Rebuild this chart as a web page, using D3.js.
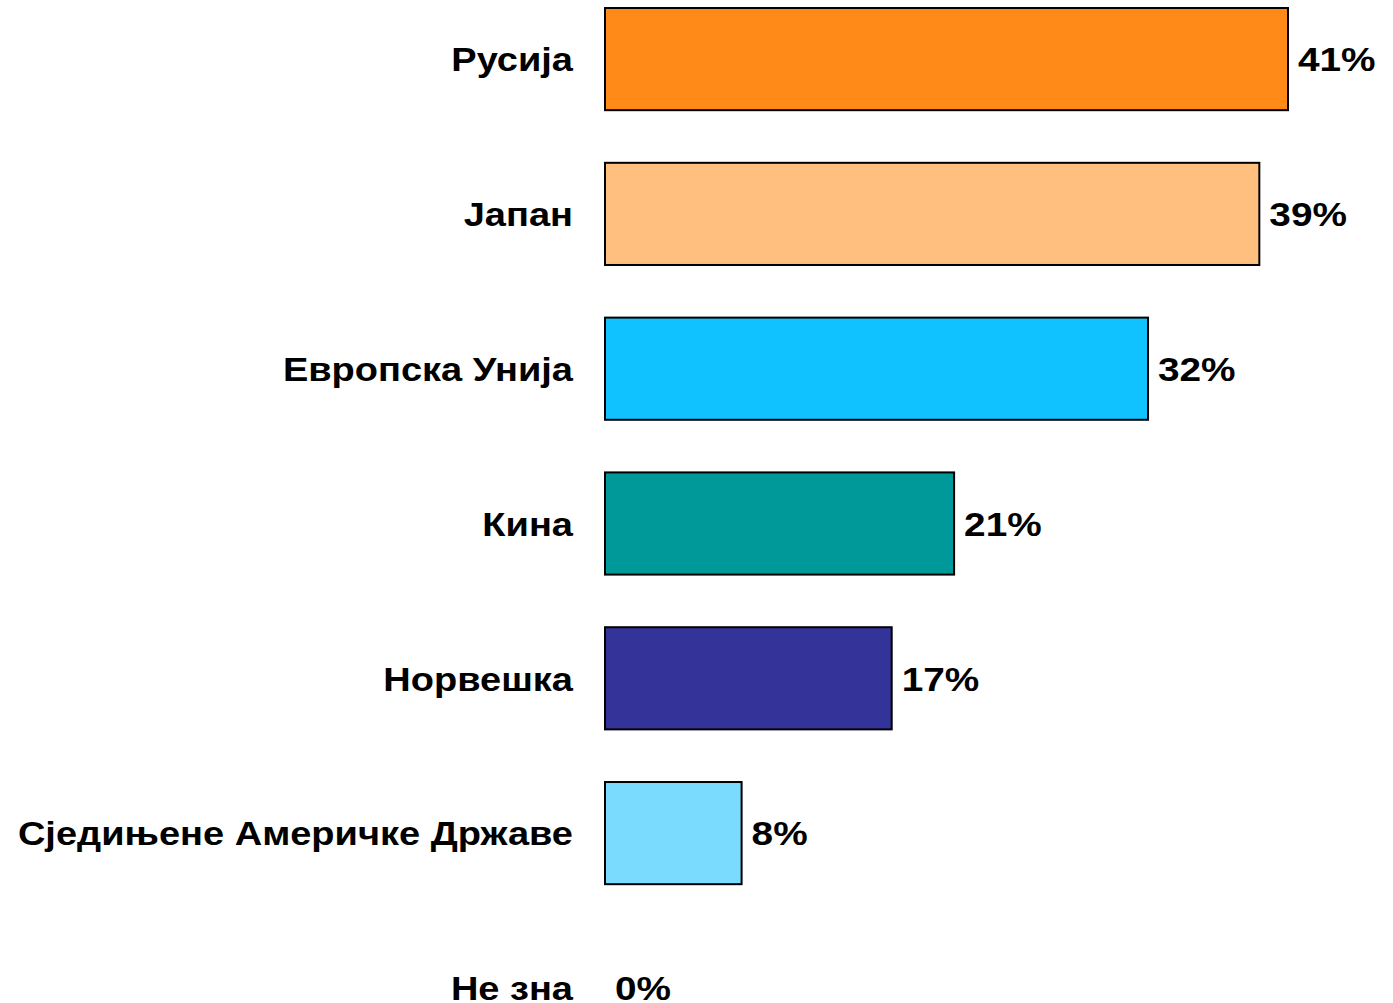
<!DOCTYPE html>
<html>
<head>
<meta charset="utf-8">
<script src="https://cdn.jsdelivr.net/npm/d3@7"></script>
<style>
  body { margin: 0; background: #fff; }
  text { font-family: "Liberation Sans", Arial, sans-serif; font-weight: bold; }
</style>
</head>
<body>
<div id="chart"></div>
<script>
/* DATA */
const categories = ["Русија", "Јапан", "Европска Унија", "Кина", "Норвешка", "Сједињене Америчке Државе", "Не зна"];
// bar lengths, labels as printed
const values = [40.5, 38.8, 32.2, 20.7, 17.0, 8.1, 0];
const labels = ["41%", "39%", "32%", "21%", "17%", "8%", "0%"];
const colors = ["#FF8A18", "#FFBF7F", "#10C2FF", "#009999", "#333399", "#7ADBFF", "#FFFFFF"];

const width = 1393, height = 1003;
// reference text is a bit wider than Liberation Sans
const catStretch = 1.118, valStretch = 1.14;

const svg = d3.select("#chart").append("svg")
  .attr("width", width)
  .attr("height", height);

// scales
const xScale = d3.scaleLinear()
  .domain([0, 40.5])
  .range([605, 1288]);

const yScale = d3.scaleBand()
  .domain(categories)
  .range([-18.3, 1065.3])
  .paddingInner(0.34)
  .paddingOuter(0.17);

const data = categories.map((c, i) => ({ cat: c, value: values[i], label: labels[i], color: colors[i] }));

// bars
svg.selectAll("rect.bar")
  .data(data.filter(d => d.value > 0))
  .join("rect")
  .attr("class", "bar")
  .attr("x", xScale(0))
  .attr("y", d => yScale(d.cat))
  .attr("width", d => xScale(d.value) - xScale(0))
  .attr("height", yScale.bandwidth())
  .attr("fill", d => d.color)
  .attr("stroke", "#000")
  .attr("stroke-width", 2);

const midY = d => yScale(d.cat) + yScale.bandwidth() / 2;

// category labels
svg.selectAll("text.cat")
  .data(data)
  .join("text")
  .attr("class", "cat")
  .attr("transform", d => `translate(573, ${midY(d)}) scale(${catStretch}, 1)`)
  .attr("dy", "0.36em")
  .attr("text-anchor", "end")
  .attr("font-size", 34)
  .text(d => d.cat);

// value labels
svg.selectAll("text.val")
  .data(data)
  .join("text")
  .attr("class", "val")
  .attr("transform", d => `translate(${xScale(d.value) + 10}, ${midY(d)}) scale(${valStretch}, 1)`)
  .attr("dy", "0.36em")
  .attr("font-size", 34)
  .text(d => d.label);
</script>
</body>
</html>
